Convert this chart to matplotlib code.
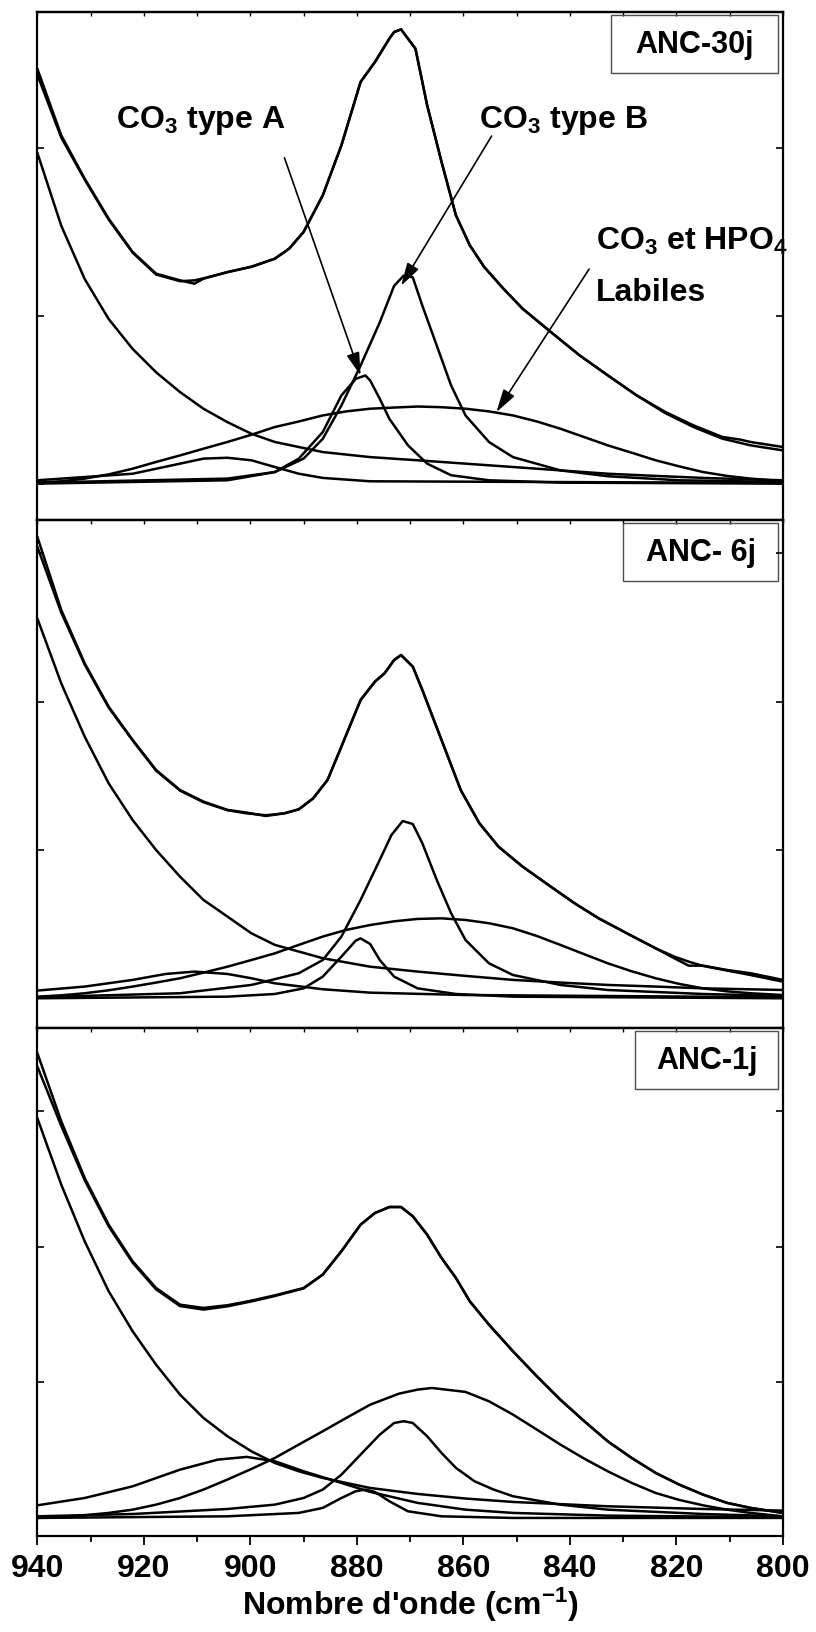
import matplotlib.pyplot as plt
from matplotlib.patches import Rectangle

plt.rcParams['font.family'] = ['Liberation Sans', 'DejaVu Sans']
plt.rcParams['font.weight'] = 'bold'
plt.rcParams['mathtext.fontset'] = 'custom'
plt.rcParams['mathtext.rm'] = 'Liberation Sans:bold'
plt.rcParams['mathtext.it'] = 'Liberation Sans:bold'
plt.rcParams['mathtext.bf'] = 'Liberation Sans:bold'
plt.rcParams['mathtext.sf'] = 'Liberation Sans:bold'

# ---- ANC-30j (top panel) ----
j30_spec_wn = [940, 935.5, 931.1, 926.6, 922.1, 917.7, 913.2, 910.5, 908.8, 904.3, 899.8, 895.4,
               892.7, 890.0, 886.4, 882.9, 879.3, 876.6, 873.9, 873.0, 871.7, 869.0, 866.8, 864.1,
               861.4, 858.8, 856.1, 852.5, 848.9, 843.6, 838.2, 832.9, 827.5, 822.1, 816.8, 811.4,
               808.0, 806.1, 800]
j30_spec_a = [0.2470, 0.2073, 0.1815, 0.1577, 0.1379, 0.1250, 0.1210, 0.1190, 0.1220, 0.1260, 0.1290,
              0.1339, 0.1399, 0.1498, 0.1716, 0.2014, 0.2391, 0.2510, 0.2649, 0.2688, 0.2704, 0.2589,
              0.2252, 0.1915, 0.1597, 0.1419, 0.1290, 0.1161, 0.1042, 0.0903, 0.0764, 0.0645, 0.0526,
              0.0427, 0.0347, 0.0278, 0.0262, 0.0248, 0.0218]
j30_fit_wn = [940, 935.5, 931.1, 926.6, 922.1, 917.7, 913.2, 910.5, 908.8, 904.3, 899.8, 895.4,
              892.7, 890.0, 886.4, 882.9, 879.3, 876.6, 873.9, 873.0, 871.7, 869.0, 866.8, 864.1,
              861.4, 858.8, 856.1, 852.5, 848.9, 843.6, 838.2, 832.9, 827.5, 822.1, 816.8, 811.4,
              806.1, 800]
j30_fit_a = [0.2435, 0.2060, 0.1810, 0.1572, 0.1375, 0.1245, 0.1205, 0.1210, 0.1222, 0.1258, 0.1292,
             0.1339, 0.1399, 0.1498, 0.1716, 0.2014, 0.2391, 0.2510, 0.2649, 0.2688, 0.2704, 0.2589,
             0.2252, 0.1915, 0.1597, 0.1419, 0.1290, 0.1161, 0.1042, 0.0903, 0.0764, 0.0645, 0.0526,
             0.0420, 0.0337, 0.0268, 0.0228, 0.0198]
j30_decay_wn = [940, 935.5, 931.1, 926.6, 922.1, 917.7, 913.2, 908.8, 904.3, 899.8, 895.4, 886.4,
                877.5, 868.6, 859.6, 850.7, 841.8, 832.9, 823.9, 815.0, 800]
j30_decay_a = [0.1970, 0.1535, 0.1218, 0.0980, 0.0802, 0.0663, 0.0545, 0.0446, 0.0366, 0.0297, 0.0248,
               0.0188, 0.0158, 0.0139, 0.0119, 0.0099, 0.0079, 0.0059, 0.0046, 0.0034, 0.0020]
j30_p905_wn = [940, 922.1, 913.2, 908.8, 904.3, 899.8, 895.4, 890.9, 886.4, 877.5, 800]
j30_p905_a = [0.0020, 0.0059, 0.0119, 0.0149, 0.0154, 0.0139, 0.0099, 0.0059, 0.0034, 0.0014, 0.0004]
j30_typeA_wn = [940, 904.3, 895.4, 890.9, 886.4, 882.9, 880.2, 878.4, 877.5, 875.7, 873.9, 870.4,
                866.8, 862.3, 855.2, 841.8, 800]
j30_typeA_a = [0.0, 0.0020, 0.0069, 0.0149, 0.0307, 0.0525, 0.0624, 0.0644, 0.0614, 0.0505, 0.0386,
               0.0228, 0.0119, 0.0050, 0.0020, 0.0006, 0.0]
j30_typeB_wn = [940, 904.3, 895.4, 890.0, 886.4, 882.9, 879.3, 875.7, 873.0, 871.2, 869.5, 867.7,
                865.0, 862.3, 859.6, 855.2, 850.7, 841.8, 832.9, 819.5, 800]
j30_typeB_a = [0.0006, 0.0030, 0.0069, 0.0149, 0.0267, 0.0465, 0.0703, 0.0960, 0.1178, 0.1238, 0.1228,
               0.1059, 0.0822, 0.0584, 0.0406, 0.0248, 0.0158, 0.0079, 0.0044, 0.0020, 0.0010]
j30_labile_wn = [940, 935.5, 931.1, 926.6, 922.1, 917.7, 913.2, 908.8, 904.3, 899.8, 895.4, 890.9,
                 886.4, 882.0, 877.5, 873.0, 868.6, 864.1, 859.6, 855.2, 850.7, 846.2, 841.8, 837.3,
                 832.9, 828.4, 823.9, 819.5, 815.0, 810.5, 806.1, 800]
j30_labile_a = [0.0006, 0.0014, 0.0030, 0.0055, 0.0089, 0.0129, 0.0168, 0.0208, 0.0248, 0.0291, 0.0337,
                0.0370, 0.0406, 0.0430, 0.0446, 0.0453, 0.0459, 0.0455, 0.0446, 0.0430, 0.0406, 0.0370,
                0.0327, 0.0277, 0.0228, 0.0184, 0.0139, 0.0103, 0.0069, 0.0046, 0.0030, 0.0014]

# ---- ANC- 6j (middle panel) ----
j6_spec_wn = [940, 935.5, 931.1, 926.6, 922.1, 917.7, 913.2, 908.8, 904.3, 900.7, 897.1, 893.6,
              890.9, 888.2, 885.5, 882.9, 879.3, 876.6, 874.8, 873.0, 871.7, 869.5, 867.7, 864.1,
              860.5, 857.0, 853.4, 848.9, 843.6, 839.1, 834.6, 829.3, 823.9, 820.4, 817.7, 815.0,
              810.5, 806.1, 800]
j6_spec_a = [0.3112, 0.2618, 0.2258, 0.1966, 0.1742, 0.1539, 0.1404, 0.1326, 0.1270, 0.1252, 0.1229,
             0.1247, 0.1274, 0.1348, 0.1472, 0.1697, 0.2011, 0.2135, 0.2191, 0.2281, 0.2314, 0.2236,
             0.2078, 0.1741, 0.1404, 0.1180, 0.1022, 0.0888, 0.0753, 0.0640, 0.0539, 0.0438, 0.0337,
             0.0270, 0.0220, 0.0220, 0.0191, 0.0169, 0.0124]
j6_fit_wn = [940, 935.5, 931.1, 926.6, 922.1, 917.7, 913.2, 908.8, 904.3, 900.7, 897.1, 893.6,
             890.9, 888.2, 885.5, 882.9, 879.3, 876.6, 874.8, 873.0, 871.7, 869.5, 867.7, 864.1,
             860.5, 857.0, 853.4, 848.9, 843.6, 839.1, 834.6, 829.3, 823.9, 820.4, 817.7, 815.0,
             810.5, 806.1, 800]
j6_fit_a = [0.3045, 0.2600, 0.2250, 0.1960, 0.1738, 0.1535, 0.1400, 0.1322, 0.1268, 0.1247, 0.1234,
            0.1247, 0.1274, 0.1348, 0.1472, 0.1697, 0.2011, 0.2135, 0.2191, 0.2281, 0.2314, 0.2236,
            0.2078, 0.1741, 0.1404, 0.1180, 0.1022, 0.0888, 0.0753, 0.0640, 0.0539, 0.0438, 0.0337,
            0.0281, 0.0247, 0.0218, 0.0187, 0.0157, 0.0112]
j6_decay_wn = [940, 935.5, 931.1, 926.6, 922.1, 917.7, 913.2, 908.8, 904.3, 899.8, 895.4, 890.9,
               886.4, 877.5, 868.6, 859.6, 850.7, 841.8, 832.9, 823.9, 815.0, 800]
j6_decay_a = [0.2562, 0.2123, 0.1764, 0.1449, 0.1202, 0.1000, 0.0820, 0.0663, 0.0551, 0.0438, 0.0360,
              0.0315, 0.0270, 0.0213, 0.0180, 0.0151, 0.0124, 0.0106, 0.0090, 0.0079, 0.0067, 0.0056]
j6_p910_wn = [940, 931.1, 922.1, 915.9, 910.5, 904.3, 899.8, 895.4, 886.4, 877.5, 859.6, 800]
j6_p910_a = [0.0052, 0.0079, 0.0124, 0.0164, 0.0180, 0.0164, 0.0135, 0.0101, 0.0061, 0.0038, 0.0022,
             0.0007]
j6_typeA_wn = [940, 904.3, 895.4, 890.0, 886.4, 882.9, 880.2, 879.3, 877.5, 875.7, 873.0, 868.6,
               861.4, 850.7, 800]
j6_typeA_a = [0.0, 0.0011, 0.0029, 0.0067, 0.0146, 0.0281, 0.0389, 0.0404, 0.0366, 0.0258, 0.0146,
              0.0067, 0.0029, 0.0011, 0.0]
j6_typeB_wn = [940, 913.2, 899.8, 890.9, 886.4, 882.9, 879.3, 875.7, 873.5, 871.4, 869.5, 867.7,
               865.0, 862.3, 859.6, 855.2, 850.7, 841.8, 832.9, 815.0, 800]
j6_typeB_a = [0.0007, 0.0034, 0.0090, 0.0169, 0.0258, 0.0416, 0.0663, 0.0933, 0.1101, 0.1195, 0.1175,
              0.1045, 0.0798, 0.0573, 0.0393, 0.0236, 0.0157, 0.0090, 0.0056, 0.0029, 0.0016]
j6_labile_wn = [940, 935.5, 931.1, 926.6, 922.1, 917.7, 913.2, 908.8, 904.3, 899.8, 895.4, 890.9,
                886.4, 882.0, 877.5, 873.0, 868.6, 864.1, 859.6, 855.2, 850.7, 846.2, 841.8, 837.3,
                832.9, 828.4, 823.9, 819.5, 815.0, 810.5, 806.1, 800]
j6_labile_a = [0.0011, 0.0020, 0.0034, 0.0054, 0.0079, 0.0106, 0.0135, 0.0173, 0.0213, 0.0258, 0.0303,
               0.0360, 0.0416, 0.0461, 0.0494, 0.0519, 0.0535, 0.0539, 0.0528, 0.0506, 0.0472, 0.0420,
               0.0360, 0.0297, 0.0236, 0.0182, 0.0135, 0.0097, 0.0067, 0.0047, 0.0034, 0.0022]

# ---- ANC-1j (bottom panel) ----
j1_spec_wn = [940, 935.5, 931.1, 926.6, 922.1, 917.7, 913.2, 908.8, 904.3, 899.8, 895.4, 890.0,
              886.4, 882.9, 879.3, 876.6, 873.9, 871.7, 869.5, 866.8, 864.1, 861.4, 858.8, 855.2,
              850.7, 846.2, 841.8, 837.3, 832.9, 828.4, 823.9, 819.5, 815.0, 810.5, 806.1, 800]
j1_spec_a = [0.3428, 0.2924, 0.2506, 0.2162, 0.1892, 0.1695, 0.1572, 0.1548, 0.1568, 0.1602, 0.1641,
             0.1695, 0.1794, 0.1966, 0.2162, 0.2248, 0.2292, 0.2292, 0.2224, 0.2088, 0.1916, 0.1769,
             0.1597, 0.1425, 0.1229, 0.1044, 0.0872, 0.0713, 0.0565, 0.0442, 0.0332, 0.0246, 0.0172,
             0.0111, 0.0074, 0.0037]
j1_fit_wn = [940, 935.5, 931.1, 926.6, 922.1, 917.7, 913.2, 908.8, 904.3, 899.8, 895.4, 890.0,
             886.4, 882.9, 879.3, 876.6, 873.9, 871.7, 869.5, 866.8, 864.1, 861.4, 858.8, 855.2,
             850.7, 846.2, 841.8, 837.3, 832.9, 828.4, 823.9, 819.5, 815.0, 810.5, 806.1, 800]
j1_fit_a = [0.3329, 0.2890, 0.2490, 0.2150, 0.1882, 0.1685, 0.1562, 0.1536, 0.1560, 0.1596, 0.1636,
            0.1692, 0.1794, 0.1966, 0.2162, 0.2248, 0.2292, 0.2292, 0.2224, 0.2088, 0.1916, 0.1769,
            0.1597, 0.1425, 0.1229, 0.1044, 0.0872, 0.0713, 0.0565, 0.0442, 0.0332, 0.0246, 0.0172,
            0.0111, 0.0074, 0.0037]
j1_decay_wn = [940, 935.5, 931.1, 926.6, 922.1, 917.7, 913.2, 908.8, 904.3, 899.8, 895.4, 890.9,
               886.4, 882.0, 877.5, 868.6, 859.6, 850.7, 832.9, 815.0, 800]
j1_decay_a = [0.2948, 0.2457, 0.2039, 0.1671, 0.1376, 0.1130, 0.0909, 0.0737, 0.0602, 0.0491, 0.0405,
              0.0344, 0.0295, 0.0258, 0.0221, 0.0177, 0.0143, 0.0118, 0.0086, 0.0066, 0.0054]
j1_p900_wn = [940, 931.1, 922.1, 913.2, 906.1, 900.7, 895.4, 890.0, 882.9, 877.5, 868.6, 859.6,
              850.7, 832.9, 800]
j1_p900_a = [0.0093, 0.0147, 0.0233, 0.0356, 0.0430, 0.0450, 0.0418, 0.0344, 0.0258, 0.0192, 0.0111,
             0.0061, 0.0037, 0.0017, 0.0005]
j1_typeA_wn = [940, 904.3, 890.9, 886.4, 882.9, 880.2, 878.4, 876.6, 873.9, 870.4, 864.1, 850.7, 800]
j1_typeA_a = [0.0, 0.0012, 0.0037, 0.0074, 0.0147, 0.0197, 0.0209, 0.0192, 0.0123, 0.0049, 0.0012,
              0.0, 0.0]
j1_typeB_wn = [940, 922.1, 904.3, 895.4, 890.0, 886.4, 882.9, 879.3, 875.7, 873.0, 871.2, 869.5,
               866.8, 864.1, 861.4, 857.9, 854.3, 850.7, 841.8, 832.9, 815.0, 800]
j1_typeB_a = [0.0012, 0.0029, 0.0066, 0.0098, 0.0147, 0.0209, 0.0319, 0.0467, 0.0614, 0.0700, 0.0713,
              0.0700, 0.0602, 0.0479, 0.0369, 0.0270, 0.0209, 0.0160, 0.0098, 0.0061, 0.0029, 0.0012]
j1_labile_wn = [940, 935.5, 931.1, 926.6, 922.1, 917.7, 913.2, 908.8, 904.3, 899.8, 895.4, 890.9,
                886.4, 882.0, 877.5, 872.1, 868.6, 865.9, 859.6, 855.2, 850.7, 846.2, 841.8, 837.3,
                832.9, 828.4, 823.9, 819.5, 815.0, 810.5, 806.1, 800]
j1_labile_a = [0.0, 0.0007, 0.0020, 0.0037, 0.0061, 0.0098, 0.0147, 0.0209, 0.0283, 0.0361, 0.0442,
               0.0541, 0.0639, 0.0737, 0.0835, 0.0916, 0.0946, 0.0958, 0.0929, 0.0860, 0.0762, 0.0651,
               0.0541, 0.0437, 0.0344, 0.0258, 0.0184, 0.0133, 0.0093, 0.0061, 0.0037, 0.0012]

sample_names = ['ANC-30j', 'ANC- 6j', 'ANC-1j']

# Make plot.
fig = plt.figure(figsize=(8.16, 16.33), dpi=100)

panels = [
    dict(name=sample_names[0], bottom=0.6810, ylim=(-0.0216, 0.2808), box_x0=0.770,
         curves=[(j30_spec_wn, j30_spec_a), (j30_fit_wn, j30_fit_a), (j30_decay_wn, j30_decay_a),
                 (j30_p905_wn, j30_p905_a), (j30_typeA_wn, j30_typeA_a),
                 (j30_typeB_wn, j30_typeB_a), (j30_labile_wn, j30_labile_a)]),
    dict(name=sample_names[1], bottom=0.3699, ylim=(-0.0200, 0.3225), box_x0=0.786,
         curves=[(j6_spec_wn, j6_spec_a), (j6_fit_wn, j6_fit_a), (j6_decay_wn, j6_decay_a),
                 (j6_p910_wn, j6_p910_a), (j6_typeA_wn, j6_typeA_a),
                 (j6_typeB_wn, j6_typeB_a), (j6_labile_wn, j6_labile_a)]),
    dict(name=sample_names[2], bottom=0.0588, ylim=(-0.0133, 0.3612), box_x0=0.802,
         curves=[(j1_spec_wn, j1_spec_a), (j1_fit_wn, j1_fit_a), (j1_decay_wn, j1_decay_a),
                 (j1_p900_wn, j1_p900_a), (j1_typeA_wn, j1_typeA_a),
                 (j1_typeB_wn, j1_typeB_a), (j1_labile_wn, j1_labile_a)]),
]

axes = []
for i, p in enumerate(panels):
    ax = fig.add_axes([0.0457, p['bottom'], 0.9138, 0.3111])
    for wn, a in p['curves']:
        ax.plot(wn, a, color='black', lw=1.8, solid_joinstyle='round', solid_capstyle='round')
    ax.set_xlim(940, 800)
    ax.set_ylim(*p['ylim'])
    ax.set_xticks(range(940, 799, -20))
    ax.set_xticks(range(930, 800, -20), minor=True)
    ax.set_yticks([t for t in (0, 0.1, 0.2, 0.3) if t < p['ylim'][1]])
    ax.tick_params(axis='y', which='both', direction='in', left=True, right=True,
                   labelleft=False, length=5, width=1.2)
    for s in ax.spines.values():
        s.set_linewidth(1.6)
    top = ax.secondary_xaxis('top')
    top.set_xticks(range(940, 799, -20))
    top.set_xticks(range(930, 800, -20), minor=True)
    top.tick_params(axis='x', which='both', direction='in', length=3, width=1, labeltop=False)
    top.spines['top'].set_linewidth(1.6)
    if i < 2:
        ax.tick_params(axis='x', which='both', bottom=False, labelbottom=False)
    else:
        ax.tick_params(axis='x', which='major', direction='out', length=6.5, width=1.3,
                       labelsize=23, pad=6)
        ax.tick_params(axis='x', which='minor', direction='out', length=4.3, width=1.3)
        for lab in ax.get_xticklabels():
            lab.set_fontweight('bold')
        ax.set_xlabel("Nombre d'onde (cm$^{-1}$)", fontsize=23, fontweight='bold', labelpad=1)

    # Sample label box
    bx0 = p['box_x0']
    ax.add_patch(Rectangle((bx0, 0.880), 0.9936 - bx0, 0.1145, transform=ax.transAxes,
                           fill=False, ec='0.3', lw=1.0))
    ax.text((bx0 + 0.9936) / 2, 0.937, p['name'], transform=ax.transAxes, fontsize=22,
            fontweight='bold', ha='center', va='center')
    axes.append(ax)

# Band assignments on the top panel.
ax = axes[0]
arrow = dict(arrowstyle='-|>,head_length=0.7,head_width=0.2', color='black', lw=1.2,
             shrinkA=0, shrinkB=0, mutation_scale=20)
ax.text(925.3, 0.2120, 'CO$_3$ type A', fontsize=23, fontweight='bold', ha='left', va='baseline')
ax.annotate('', xy=(879.3, 0.0644), xytext=(893.6, 0.1940), arrowprops=arrow)
ax.text(857.0, 0.2125, 'CO$_3$ type B', fontsize=23, fontweight='bold', ha='left', va='baseline')
ax.annotate('', xy=(871.7, 0.1178), xytext=(854.7, 0.2069), arrowprops=arrow)
ax.text(835.1, 0.1400, 'CO$_3$ et HPO$_4$', fontsize=23, fontweight='bold', ha='left', va='baseline')
ax.text(835.1, 0.1095, 'Labiles', fontsize=23, fontweight='bold', ha='left', va='baseline')
ax.annotate('', xy=(853.8, 0.0426), xytext=(836.4, 0.1277), arrowprops=arrow)

plt.savefig('out.png', dpi=100)
